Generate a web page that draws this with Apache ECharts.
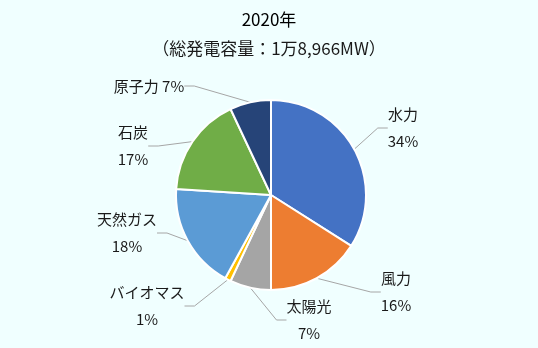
<!DOCTYPE html>
<html>
<head>
<meta charset="utf-8">
<script src="https://cdn.jsdelivr.net/npm/echarts@6/dist/echarts.min.js"></script>
<style>
  html, body { margin: 0; padding: 0; background: #F0FFFF; }
  #chart { width: 538px; height: 348px; }
</style>
</head>
<body>
<div id="chart"></div>
<script>
// Generation capacity mix, 2020 (share of total, %)
const categories = ['水力', '風力', '太陽光', 'バイオマス', '天然ガス', '石炭', '原子力'];
const shares = [34, 16, 7, 1, 18, 17, 7];
const titleText = '2020年';
const subtitleText = '（総発電容量：1万8,966MW）';

const sliceColors = ['#4472C4', '#ED7D31', '#A5A5A5', '#FFC000', '#5B9BD5', '#70AD47', '#264478'];
// where each slice's label block is centred
const labelSpots = [
  [403, 128], [396, 292], [309, 320], [147, 306], [127, 233], [133, 146], [149, 86]
];

const chart = echarts.init(document.getElementById('chart'), null, { renderer: 'canvas' });

const font = '"Noto Sans CJK JP", "Noto Sans", sans-serif';

chart.setOption({
  backgroundColor: '#F0FFFF',
  animation: false,
  title: [
    {
      text: titleText,
      left: 'center',
      top: 6,
      textStyle: { fontFamily: font, fontSize: 17, fontWeight: 'normal', color: '#000000' }
    },
    {
      text: subtitleText,
      left: 'center',
      top: 35,
      textStyle: { fontFamily: font, fontSize: 17, fontWeight: 'normal', color: '#1A1A1A' }
    }
  ],
  series: [{
    type: 'pie',
    center: [271, 195],
    radius: [0, 95],
    startAngle: 90,
    clockwise: true,
    data: categories.map((name, i) => ({
      name: name,
      value: shares[i],
      itemStyle: { color: sliceColors[i] }
    })),
    itemStyle: { borderColor: '#FFFFFF', borderWidth: 2 },
    label: {
      show: true,
      position: 'outside',
      fontFamily: font,
      fontSize: 15,
      color: '#1A1A1A',
      lineHeight: 27,
      align: 'center',
      formatter: p => p.name === '原子力' ? p.name + ' ' + p.value + '%' : p.name + '\n' + p.value + '%'
    },
    labelLine: {
      show: true,
      length: 6,
      length2: 10,
      smooth: false,
      lineStyle: { color: '#A6A6A6', width: 1 }
    },
    labelLayout: p => ({
      x: labelSpots[p.dataIndex][0],
      y: labelSpots[p.dataIndex][1],
      align: 'center',
      verticalAlign: 'middle'
    })
  }]
});
</script>
</body>
</html>
